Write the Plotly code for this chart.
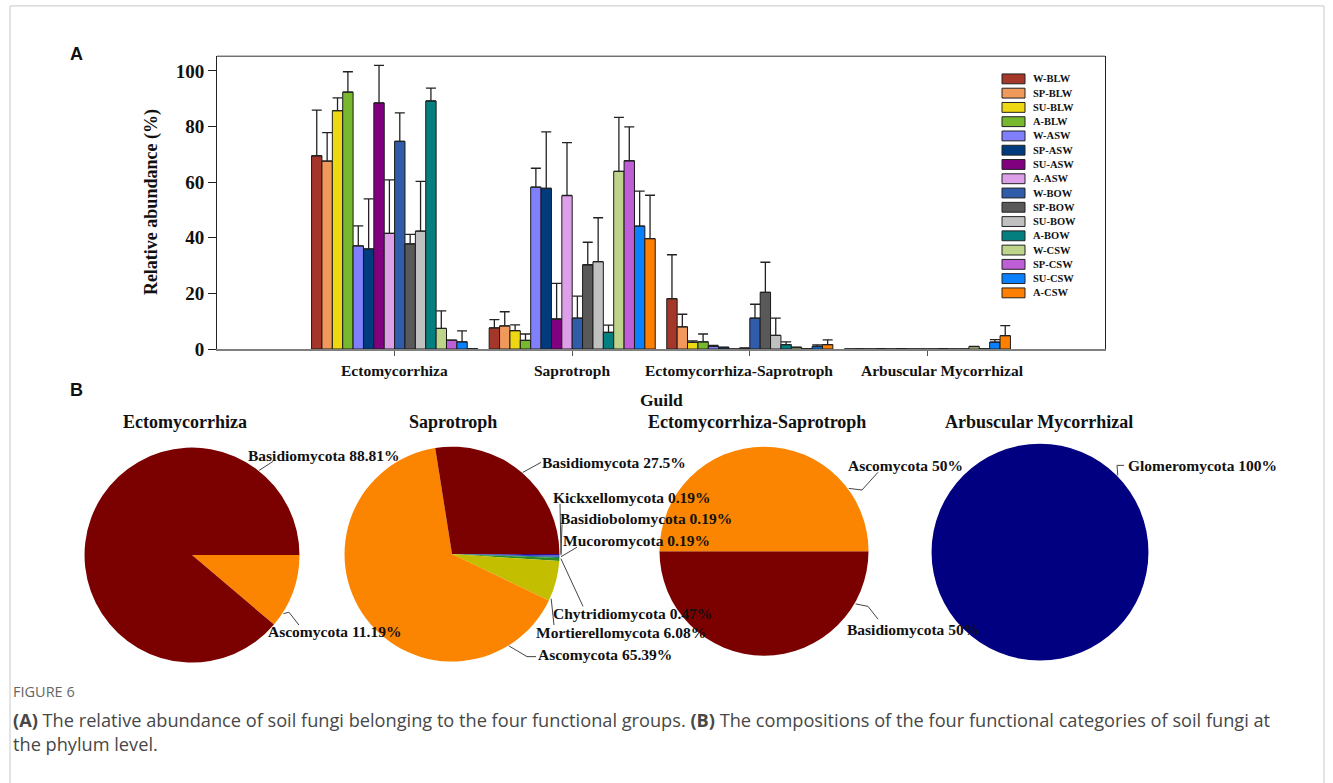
import math
import plotly.graph_objects as go

W, H = 1333, 783

# ---------------- data ----------------
guilds = ["Ectomycorrhiza", "Saprotroph", "Ectomycorrhiza-Saprotroph", "Arbuscular Mycorrhizal"]
samples = ["W-BLW", "SP-BLW", "SU-BLW", "A-BLW", "W-ASW", "SP-ASW", "SU-ASW", "A-ASW",
           "W-BOW", "SP-BOW", "SU-BOW", "A-BOW", "W-CSW", "SP-CSW", "SU-CSW", "A-CSW"]

ecto_mean = [69.5, 67.6, 85.7, 92.4, 37.1, 36.0, 88.5, 41.6, 74.7, 37.8, 42.4, 89.2, 7.4, 3.2, 2.6, 0.1]
ecto_err = [16.4, 10.2, 4.6, 7.3, 7.2, 18.0, 13.5, 19.2, 10.2, 3.4, 17.9, 4.6, 6.3, 0.0, 3.9, 0.0]
sapro_mean = [7.6, 8.3, 6.6, 3.1, 58.2, 57.8, 10.8, 55.2, 11.1, 30.3, 31.4, 6.0, 63.9, 67.7, 44.2, 39.7]
sapro_err = [3.0, 5.1, 2.1, 2.3, 6.8, 20.3, 12.8, 19.0, 7.9, 8.1, 15.8, 2.6, 19.4, 12.2, 12.6, 15.6]
es_mean = [18.1, 8.0, 2.4, 2.6, 1.0, 0.6, 0.0, 0.3, 11.1, 20.4, 4.9, 1.6, 0.6, 0.05, 0.9, 1.6]
es_err = [15.8, 4.5, 0.5, 2.8, 0.3, 0.1, 0.0, 0.1, 5.0, 10.8, 6.2, 1.0, 0.1, 0.0, 0.6, 1.7]
am_mean = [0.0, 0.05, 0.0, 0.1, 0.0, 0.1, 0.0, 0.0, 0.0, 0.1, 0.0, 0.0, 0.9, 0.05, 2.5, 4.8]
am_err = [0.0, 0.0, 0.0, 0.0, 0.0, 0.0, 0.0, 0.0, 0.0, 0.0, 0.0, 0.0, 0.0, 0.0, 0.9, 3.6]

sample_colors = ["#A5372A", "#F0995A", "#EED812", "#77B82E", "#8080FF", "#003C7D", "#800080", "#DDA0E8",
                 "#305CAA", "#595959", "#C0C0C0", "#047F7F", "#BDD48A", "#BE5FD8", "#0A80FF", "#FF8000"]

y_ticks = [0, 20, 40, 60, 80, 100]

# phylum composition of each guild (%)
ecto_phyla = ["Ascomycota", "Basidiomycota"]
ecto_pct = [11.19, 88.81]
sapro_phyla = ["Kickxellomycota", "Basidiobolomycota", "Mucoromycota", "Chytridiomycota",
               "Mortierellomycota", "Ascomycota", "Basidiomycota"]
sapro_pct = [0.19, 0.19, 0.19, 0.47, 6.08, 65.39, 27.5]
es_phyla = ["Basidiomycota", "Ascomycota"]
es_pct = [50, 50]
am_phyla = ["Glomeromycota"]
am_pct = [100]

phylum_colors = {
    "Basidiomycota": "#7B0000",
    "Ascomycota": "#FB8500",
    "Kickxellomycota": "#3A0A8C",
    "Basidiobolomycota": "#2040C0",
    "Mucoromycota": "#0A6A7A",
    "Chytridiomycota": "#2E8B22",
    "Mortierellomycota": "#C4BE00",
    "Glomeromycota": "#000080",
}

# ---------------- helpers ----------------
def px(x):
    return x / W


def py(y):
    return 1 - y / H


SERIF = "Liberation Serif"
SANS = "Liberation Sans"

fig = go.Figure()

# ---------------- panel A: grouped bars ----------------
for i, name in enumerate(samples):
    means = [ecto_mean[i], sapro_mean[i], es_mean[i], am_mean[i]]
    errs = [ecto_err[i], sapro_err[i], es_err[i], am_err[i]]
    fig.add_trace(go.Bar(
        x=guilds, y=means, name=name,
        marker=dict(color=sample_colors[i], line=dict(color="#1a1a1a", width=1)),
        error_y=dict(type="data", array=errs, arrayminus=[0] * len(errs), symmetric=False,
                     color="#222222", thickness=1.3, width=5),
        showlegend=False,
    ))

X0, X1, YB, YT = 217, 1105, 354, 57
fig.update_layout(
    barmode="group", bargap=0.065, bargroupgap=0,
    xaxis=dict(domain=[px(X0), px(X1)], range=[-1, 4], type="category",
               showline=True, linecolor="#7f7f7f", linewidth=2, mirror=False,
               ticks="outside", ticklen=5, tickcolor="#555555", showticklabels=False,
               showgrid=False, zeroline=False, fixedrange=True),
    yaxis=dict(domain=[py(YB), py(YT)], range=[0, 105.3], tickvals=y_ticks,
               showline=True, linecolor="#222222", linewidth=1, mirror=True,
               ticks="outside", ticklen=8, tickcolor="#222222",
               tickfont=dict(family=SERIF, size=19, color="#111111", weight="bold"),
               showgrid=False, zeroline=False, fixedrange=True),
)

shapes = []
annotations = []

# top border of the bar panel
shapes.append(dict(type="line", xref="paper", yref="paper", x0=px(X0), x1=px(X1),
                   y0=py(YT), y1=py(YT), line=dict(color="#333333", width=1)))

# guild labels under the axis (the two long ones nudged apart so they do not touch)
label_shift = [0, 0, -11, 15]
for i, g in enumerate(guilds):
    annotations.append(dict(text=g, xref="x", yref="paper", x=i, y=py(376), xshift=label_shift[i],
                            xanchor="center", yanchor="middle", showarrow=False,
                            font=dict(family=SERIF, size=15.5, color="#111111", weight="bold")))

# legend drawn as swatches + labels
LEG_Y0, LEG_DY = 80, 14.47
for i, name in enumerate(samples):
    cy = LEG_Y0 + i * LEG_DY
    shapes.append(dict(type="rect", xref="paper", yref="paper",
                       x0=px(1002), x1=px(1025), y0=py(cy + 5), y1=py(cy - 5),
                       fillcolor=sample_colors[i], line=dict(color="#222222", width=1)))
    annotations.append(dict(text=name, xref="paper", yref="paper", x=px(1031), y=py(cy),
                            xanchor="left", yanchor="middle", showarrow=False,
                            font=dict(family=SERIF, size=10.5, color="#111111", weight="bold")))

# axis titles
annotations.append(dict(text="Relative abundance (%)", xref="paper", yref="paper",
                        x=px(151), y=py(205), textangle=-90, showarrow=False,
                        xanchor="center", yanchor="middle",
                        font=dict(family=SERIF, size=18, color="#111111", weight="bold")))
annotations.append(dict(text="Guild", xref="paper", yref="paper", x=px(661), y=py(406),
                        showarrow=False, xanchor="center", yanchor="middle",
                        font=dict(family=SERIF, size=17.5, color="#111111", weight="bold")))

# panel letters
for letter, (lx, ly) in {"A": (76, 55), "B": (76, 396)}.items():
    annotations.append(dict(text=letter, xref="paper", yref="paper", x=px(lx), y=py(ly),
                            showarrow=False, xanchor="center", yanchor="middle",
                            font=dict(family=SANS, size=18, color="#111111", weight="bold")))

# ---------------- panel B: pies ----------------
pies = [
    # title, phyla, pct, centre x, centre y, radius, title x
    ("Ectomycorrhiza", ecto_phyla, ecto_pct, 192, 563, 109, 185),
    ("Saprotroph", sapro_phyla, sapro_pct, 452, 562, 109, 453),
    ("Ectomycorrhiza-Saprotroph", es_phyla, es_pct, 764, 559, 106, 757),
    ("Arbuscular Mycorrhizal", am_phyla, am_pct, 1040, 560, 110, 1039),
]

# label placement: leader start angle (deg, ccw from east), leader bend points, text anchor
label_layout = {
    "Ectomycorrhiza": {
        "Basidiomycota": (52, [(273, 468)], (247, 462)),
        "Ascomycota": (-33, [(289, 621), (299, 634)], (267, 641)),
    },
    "Saprotroph": {
        "Basidiomycota": (49.5, [(541, 469)], (541, 469)),
        "Kickxellomycota": (0.3, [(560, 511)], (552, 505)),
        "Basidiobolomycota": (-0.6, [(562, 532)], (559, 526)),
        "Mucoromycota": (-1.4, [(577, 555)], (562, 548)),
        "Chytridiomycota": (-2.4, [(583, 615)], (552, 622)),
        "Mortierellomycota": (-24.5, [(554, 634)], (535, 642)),
        "Ascomycota": (-58.6, [(527, 666), (536, 666)], (537, 664)),
    },
    "Ectomycorrhiza-Saprotroph": {
        "Ascomycota": (36.9, [(862, 497), (878, 479)], (847, 472)),
        "Basidiomycota": (-30.3, [(868, 615), (878, 628)], (846, 638)),
    },
    "Arbuscular Mycorrhizal": {
        "Glomeromycota": (45, [(1117, 472), (1124, 472)], (1127, 472)),
    },
}

for title, phyla, pct, cx, cy, r, tx in pies:
    fig.add_trace(go.Pie(
        labels=phyla, values=pct, sort=False, direction="clockwise", rotation=90,
        marker=dict(colors=[phylum_colors[p] for p in phyla], line=dict(width=0)),
        textinfo="none", showlegend=False,
        domain=dict(x=[px(cx - r), px(cx + r)], y=[py(cy + r), py(cy - r)]),
    ))
    annotations.append(dict(text=title, xref="paper", yref="paper", x=px(tx), y=py(428),
                            showarrow=False, xanchor="center", yanchor="middle",
                            font=dict(family=SERIF, size=18, color="#111111", weight="bold")))
    for name, value in zip(phyla, pct):
        ang, bends, (lx, ly) = label_layout[title][name]
        sx = cx + r * math.cos(math.radians(ang))
        sy = cy - r * math.sin(math.radians(ang))
        pts = [(sx, sy)] + bends
        path = "M " + " L ".join(f"{px(a):.5f},{py(b):.5f}" for a, b in pts)
        shapes.append(dict(type="path", xref="paper", yref="paper", path=path,
                           line=dict(color="#444444", width=1)))
        annotations.append(dict(text=f"{name} {value:g}%", xref="paper", yref="paper",
                                x=px(lx), y=py(ly), xanchor="left", yanchor="middle",
                                showarrow=False, borderpad=0,
                                font=dict(family=SERIF, size=15.5, color="#111111", weight="bold")))

# ---------------- caption and frame ----------------
annotations.append(dict(text="FIGURE 6", xref="paper", yref="paper", x=px(11), y=py(701),
                        xanchor="left", yanchor="middle", showarrow=False,
                        font=dict(family="Open Sans", size=14.5, color="#666666")))
annotations.append(dict(
    text="<b>(A)</b> The relative abundance of soil fungi belonging to the four functional groups. "
         "<b>(B)</b> The compositions of the four functional categories of soil fungi at"
         "<br>the phylum level.",
    xref="paper", yref="paper", x=px(11), y=py(716), xanchor="left", yanchor="top", align="left",
    showarrow=False, font=dict(family="Open Sans", size=18.2, color="#474747")))

shapes.append(dict(type="rect", xref="paper", yref="paper", x0=px(10), x1=px(1324),
                   y0=py(6), y1=py(800), line=dict(color="#c8c8c8", width=1), fillcolor="rgba(0,0,0,0)"))

fig.update_layout(
    width=W, height=H, margin=dict(l=0, r=0, t=0, b=0),
    paper_bgcolor="white", plot_bgcolor="white",
    shapes=shapes, annotations=annotations, showlegend=False,
)

fig.write_html("out.html", config={"displayModeBar": False})
